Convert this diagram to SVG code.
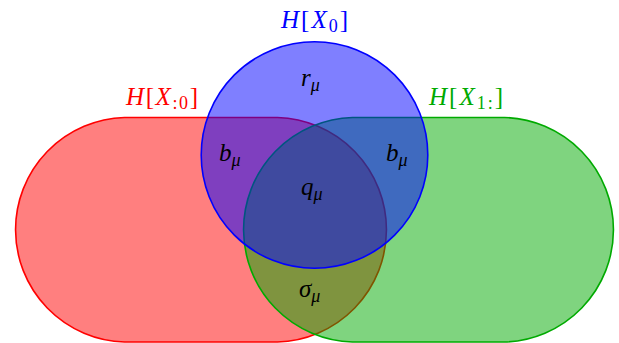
<svg xmlns="http://www.w3.org/2000/svg" width="619" height="343" viewBox="0 0 619 343">
<style>
.set{stroke-width:1.6}
.lab{font-family:"Liberation Serif","Times New Roman",serif;font-size:25px}
.it{font-style:italic}
.sub{font-size:18px}
.m{font-family:"Liberation Serif","Times New Roman",serif;font-size:25px;font-style:italic;fill:#000}
</style>
<rect width="619" height="343" fill="#fff"/>
<g id="red">
<path class="set" d="M124.5 117.5H277.5A112.3 112.3 0 0 1 277.5 342H124.5A112.3 112.3 0 0 1 124.5 117.5Z" fill="#ff0000" fill-opacity="0.5" stroke="#ff0000"/>
<text class="lab" x="126" y="105" fill="#ff0000" textLength="72"><tspan class="it">H</tspan>[<tspan class="it">X</tspan><tspan class="sub" dy="4">:0</tspan><tspan dy="-4">]</tspan></text>
</g>
<g id="green">
<path class="set" d="M352.5 117.5H504.5A112.3 112.3 0 0 1 504.5 342H352.5A112.3 112.3 0 0 1 352.5 117.5Z" fill="#00aa00" fill-opacity="0.5" stroke="#00aa00"/>
<text class="lab" x="429" y="105" fill="#00aa00" textLength="74"><tspan class="it">H</tspan>[<tspan class="it">X</tspan><tspan class="sub" dy="4">1:</tspan><tspan dy="-4">]</tspan></text>
</g>
<g id="blue">
<circle class="set" cx="314.5" cy="155" r="113.3" fill="#0000ff" fill-opacity="0.5" stroke="#0000ff"/>
<text class="lab" x="281" y="28" fill="#0000ff" textLength="67"><tspan class="it">H</tspan>[<tspan class="it">X</tspan><tspan class="sub" dy="4">0</tspan><tspan dy="-4">]</tspan></text>
</g>
<g id="labels">
<text class="m" x="301" y="86">r<tspan class="sub" dy="5">μ</tspan></text>
<text class="m" x="219" y="161">b<tspan class="sub" dy="5">μ</tspan></text>
<text class="m" x="386" y="161">b<tspan class="sub" dy="5">μ</tspan></text>
<text class="m" x="301" y="195">q<tspan class="sub" dy="5">μ</tspan></text>
<text class="m" x="299" y="297">σ<tspan class="sub" dy="5">μ</tspan></text>
</g>
</svg>
